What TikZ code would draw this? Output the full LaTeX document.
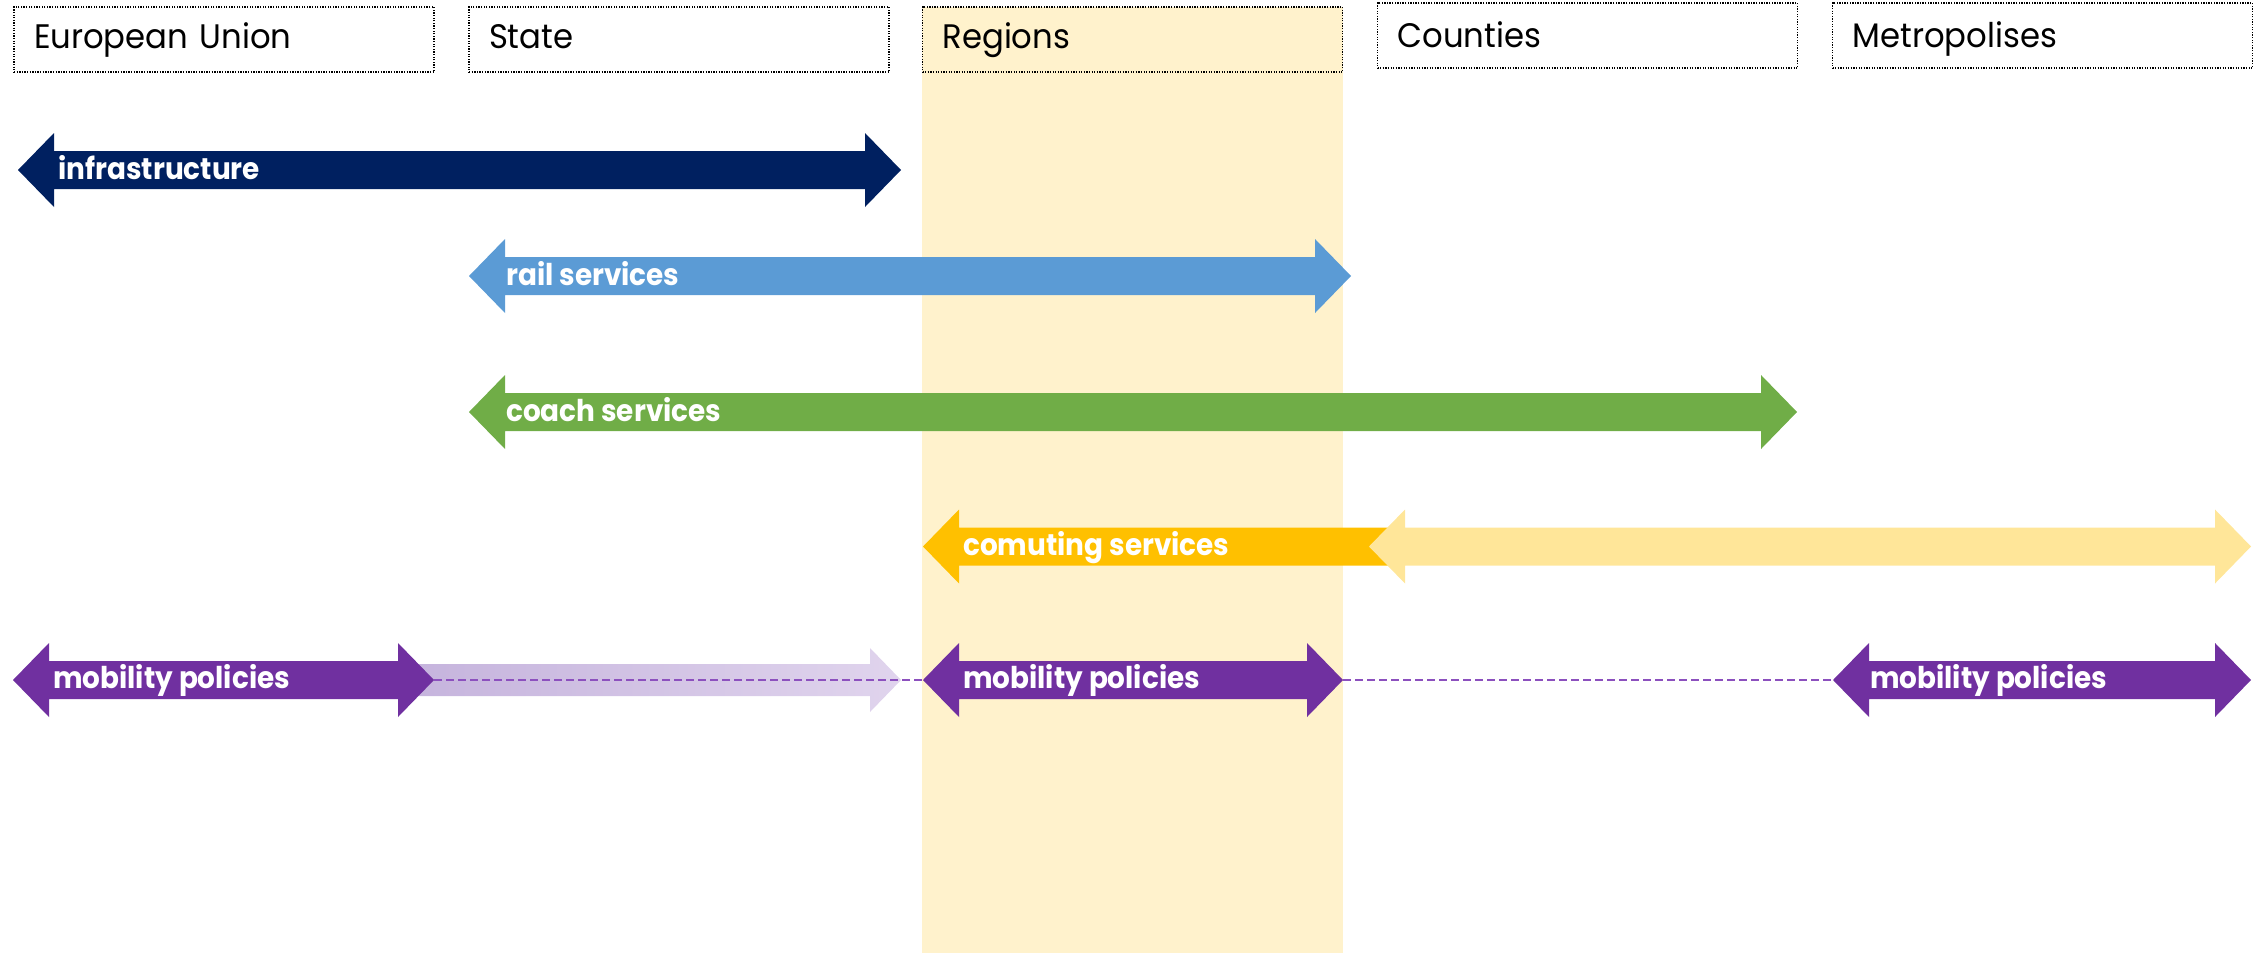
\documentclass[tikz,border=0pt]{standalone}
\usepackage{fontspec}
\setmainfont{Poppins}
\newfontfamily\hdrfont[FakeStretch=0.95]{Poppins}
\newfontfamily\lblfont[FakeStretch=0.93]{Poppins}
\definecolor{navy}{HTML}{002060}
\definecolor{railblue}{HTML}{5B9BD5}
\definecolor{coachgreen}{HTML}{70AD47}
\definecolor{commorange}{HTML}{FFC000}
\definecolor{commlight}{HTML}{FFE699}
\definecolor{colfill}{HTML}{FFF2CC}
\definecolor{polpurple}{HTML}{7030A0}
\definecolor{purpA}{RGB}{196,178,220}
\definecolor{purpB}{RGB}{224,212,237}
\definecolor{dashpurple}{RGB}{140,80,190}
% double arrow: #1 name, #2 left tip x, #3 right tip x, #4 centre y, #5 fill
\newcommand{\DArrow}[5]{%
  \fill[#5] (#2,#4) -- ({#2+36},{#4-37}) -- ({#2+36},{#4-19}) -- ({#3-36},{#4-19})
    -- ({#3-36},{#4-37}) -- (#3,#4) -- ({#3-36},{#4+37}) -- ({#3-36},{#4+19})
    -- ({#2+36},{#4+19}) -- ({#2+36},{#4+37}) -- cycle;
  \coordinate (#1-l) at (#2,#4);
  \coordinate (#1-r) at (#3,#4);}
\tikzset{
  hdr/.style={draw=black, line width=1.2pt, dash pattern=on 1.3pt off 1.3pt,
    minimum height=65pt, text width=380pt, inner xsep=20pt, inner ysep=0pt,
    align=left, font=\hdrfont\fontsize{34}{40}\selectfont,
    text height=26pt, text depth=8pt},
  hdrhi/.style={hdr, text height=31pt, text depth=8pt},
  lbl/.style={anchor=base west, inner sep=0pt, text=white,
    font=\lblfont\bfseries\fontsize{30}{36}\selectfont},
  link/.style={draw=dashpurple, line width=1.5pt, dash pattern=on 8pt off 4pt}
}
\begin{document}
\begin{tikzpicture}[x=1pt,y=-1pt]
\useasboundingbox (0,0) rectangle (2267,953);
% regions column
\fill[colfill] (922,7) rectangle (1343,953);
% headers
\node[hdr] (eu) at (224,39.5) {European Union};
\node[hdr] (state) at (679,39.5) {State};
\node[hdr, fill=colfill] (regions) at (1132.5,39.5) {Regions};
\node[hdrhi] (counties) at (1587.5,35.5) {Counties};
\node[hdrhi] (metro) at (2042.5,35.5) {Metropolises};
% infrastructure
\DArrow{infra}{18}{901}{170}{navy}
\node[lbl] (linfra) at (58,179) {infrastructure};
% rail
\DArrow{rail}{469}{1351}{276}{railblue}
\node[lbl] (lrail) at (506,285) {rail services};
% coach
\DArrow{coach}{469}{1797}{412}{coachgreen}
\node[lbl] (lcoach) at (506,421) {coach services};
% commuting
\fill[commorange] (923,546.5) -- (959,509.5) -- (959,527.5) -- (1395,527.5)
  -- (1395,565.5) -- (959,565.5) -- (959,583.5) -- cycle;
\coordinate (comm-l) at (923,546.5);
\DArrow{commx}{1369}{2251}{546.5}{commlight}
\node[lbl] (lcomm) at (963,555.5) {comuting services};
% mobility policies
\shade[left color=purpA, right color=purpB] (380,664) -- (870,664) -- (870,648)
  -- (901,680) -- (870,712) -- (870,696) -- (380,696) -- cycle;
\coordinate (fade-r) at (901,680);
\DArrow{mpL}{13}{434}{680}{polpurple}
\DArrow{mpM}{923}{1343}{680}{polpurple}
\DArrow{mpR}{1833}{2251}{680}{polpurple}
\draw[link] (mpL-r) -- (mpM-l);
\draw[link] (mpM-r) -- (mpR-l);
\node[lbl] (lmpL) at (53,688) {mobility policies};
\node[lbl] (lmpM) at (963,688) {mobility policies};
\node[lbl] (lmpR) at (1870,688) {mobility policies};
\end{tikzpicture}
\end{document}
